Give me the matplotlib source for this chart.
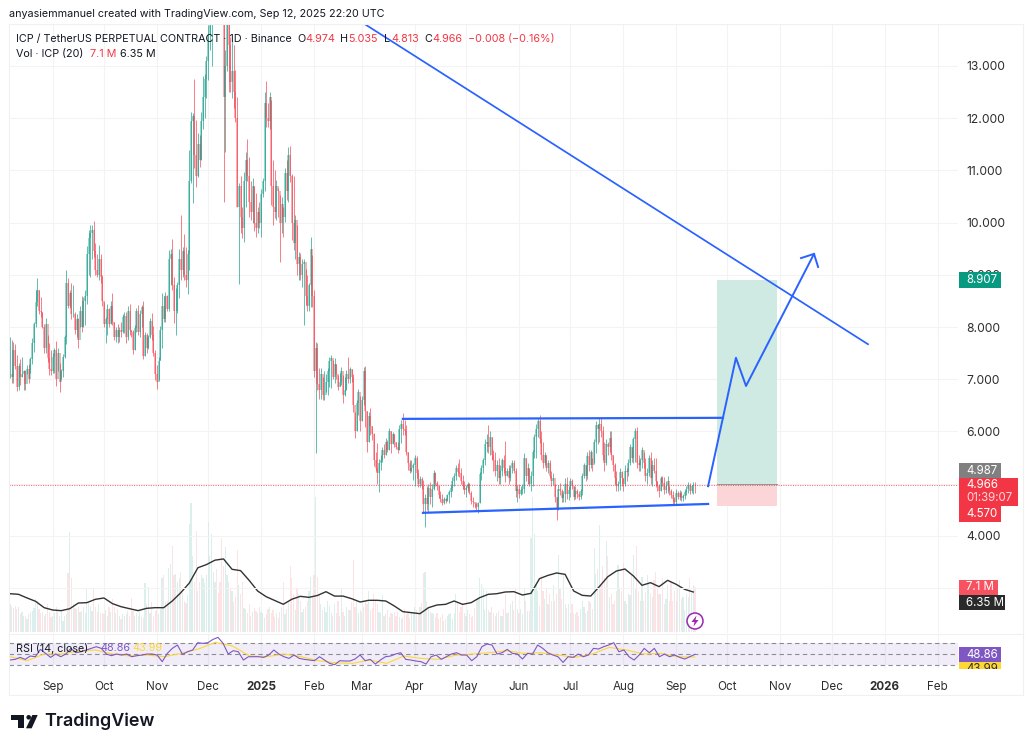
"""ICP / USDT daily candles with volume, RSI and hand drawn trade idea."""

import matplotlib
matplotlib.use("Agg")
import matplotlib.pyplot as plt
from matplotlib.patches import Circle, Polygon, Rectangle
import numpy as np
import pandas as pd

plt.rcParams["font.family"] = ["Inter", "DejaVu Sans"]

WIDTH, HEIGHT = 1032, 749
DPI = 100

# one row per month, Aug 7 2024 to Sep 12 2025
highs = [
    7.81, 7.75, 7.71, 7.67, 7.46, 7.31, 7.39, 7.43, 7.18, 7.18, 7.27, 7.30, 7.43, 7.79, 8.10, 8.70, 8.93, 8.70, 8.58, 8.29, 8.05, 8.17, 7.85, 7.70, 7.55,
    7.50, 7.60, 7.73, 7.60, 7.31, 7.20, 7.48, 7.85, 9.10, 8.93, 8.70, 8.85, 8.80, 8.29, 8.25, 8.17, 8.40, 8.60, 8.58, 8.70, 9.55, 9.85, 9.95, 9.95, 10.03, 9.60, 9.40, 9.57, 9.40, 9.00,
    8.48, 8.20, 8.44, 8.36, 8.50, 8.65, 8.10, 8.00, 8.05, 8.00, 8.10, 8.25, 8.29, 8.29, 8.40, 8.45, 7.95, 7.95, 8.04, 8.36, 8.42, 8.32, 8.42, 8.50, 7.90, 7.88, 7.85, 8.17, 8.26, 8.02, 7.56,
    7.27, 7.43, 8.02, 8.65, 8.60, 8.68, 8.62, 9.47, 9.50, 9.68, 8.96, 8.74, 8.87, 9.50, 10.14, 9.54, 9.79, 9.54, 9.47, 11.39, 12.12, 12.10, 12.76, 11.96, 11.71, 11.68, 12.12, 12.80, 12.85, 13.20,
    13.78, 14.10, 14.30, 15.00, 15.80, 15.50, 15.00, 14.80, 14.60, 14.30, 13.30, 14.00, 13.85, 13.55, 13.50, 13.40, 12.92, 12.40, 10.75, 10.90, 10.30, 10.97, 11.36, 11.60, 11.26, 10.80, 10.85, 10.70, 10.56, 10.30, 10.40,
    10.65, 10.85, 12.50, 12.71, 12.30, 12.50, 12.35, 11.20, 11.00, 10.82, 10.66, 10.53, 10.50, 10.30, 11.04, 11.20, 11.45, 11.46, 10.94, 10.90, 10.14, 9.95, 9.44, 9.41, 9.30, 9.30, 9.12, 9.00, 8.84, 9.73, 9.38,
    8.70, 7.72, 7.69, 7.21, 7.21, 7.05, 7.15, 7.10, 7.21, 7.43, 7.47, 7.37, 7.40, 7.30, 7.08, 7.11, 7.24, 7.08, 7.05, 7.18, 7.43, 7.24, 7.20, 7.10, 6.38, 6.60, 6.81, 6.67,
    6.67, 7.24, 7.25, 6.40, 6.38, 6.44, 6.10, 5.96, 5.60, 5.77, 5.48, 5.55, 5.71, 5.75, 5.87, 5.84, 6.07, 6.00, 5.98, 5.95, 5.80, 5.80, 6.12, 6.22, 6.35, 6.22, 6.12, 5.61, 5.45, 5.45, 5.39,
    5.55, 5.52, 5.28, 5.15, 5.13, 5.07, 4.81, 4.95, 5.00, 5.04, 5.00, 5.26, 5.23, 5.05, 4.97, 4.85, 4.81, 4.75, 4.72, 4.81, 4.88, 4.97, 5.13, 5.20, 5.36, 5.40, 5.47, 5.29, 5.17, 5.05,
    4.97, 5.04, 5.02, 4.85, 4.75, 4.62, 4.65, 4.65, 5.23, 5.35, 5.50, 5.85, 5.95, 6.12, 6.00, 5.90, 5.65, 5.60, 5.45, 5.50, 5.35, 5.50, 5.55, 5.82, 5.30, 5.35, 5.35, 5.45, 5.45, 5.30, 4.98,
    5.00, 4.95, 5.00, 5.58, 5.50, 5.40, 5.30, 5.25, 5.65, 5.95, 6.15, 6.25, 6.31, 6.00, 5.80, 5.60, 5.55, 5.45, 5.45, 5.25, 5.20, 5.00, 4.75, 4.97, 5.02, 4.90, 4.85, 5.10, 5.12, 4.95,
    5.10, 5.08, 4.95, 4.95, 4.90, 4.85, 4.90, 5.20, 5.40, 5.35, 5.60, 5.65, 5.65, 5.50, 5.85, 6.20, 6.15, 6.25, 6.25, 6.10, 5.80, 5.85, 5.80, 6.00, 6.00, 5.55, 5.40, 5.25, 5.05, 5.30, 5.25,
    5.10, 5.35, 5.30, 5.48, 5.75, 5.70, 5.90, 6.06, 6.08, 5.55, 5.50, 5.70, 5.60, 5.50, 5.30, 5.55, 5.60, 5.45, 5.50, 5.50, 5.05, 5.00, 5.15, 5.15, 5.12, 5.05, 5.15, 4.95, 4.90, 4.85, 4.75,
    4.90, 4.85, 4.88, 4.86, 4.80, 4.88, 4.95, 5.03, 5.02, 4.98, 5.04, 5.035,
]
lows = [
    7.03, 6.93, 6.93, 7.20, 6.77, 6.80, 6.89, 7.04, 6.80, 6.80, 7.10, 6.93, 7.12, 7.30, 7.52, 8.00, 8.40, 8.25, 8.20, 7.98, 7.50, 7.50, 7.33, 7.08, 7.08,
    7.12, 7.12, 6.87, 7.15, 6.76, 7.00, 7.05, 7.40, 7.67, 8.36, 8.36, 8.15, 8.19, 7.87, 7.80, 7.60, 8.00, 7.90, 8.00, 8.04, 8.45, 9.00, 8.96, 9.30, 9.35, 9.00, 8.95, 8.90, 8.85, 8.40,
    8.00, 7.70, 7.85, 8.00, 8.05, 8.04, 7.75, 7.72, 7.70, 7.72, 7.80, 7.88, 7.88, 7.70, 7.75, 7.85, 7.80, 7.48, 7.55, 7.91, 7.85, 7.81, 8.00, 7.39, 7.45, 7.50, 7.57, 7.78, 7.75, 7.45, 6.98,
    6.82, 6.98, 7.37, 7.60, 8.10, 8.10, 8.30, 8.30, 8.80, 8.71, 8.07, 7.84, 8.26, 8.55, 8.90, 8.96, 8.90, 8.77, 8.64, 9.09, 10.75, 10.38, 11.04, 10.69, 10.88, 11.07, 11.20, 11.80, 12.00, 12.38,
    12.73, 13.30, 13.00, 14.00, 14.60, 14.50, 14.20, 14.10, 14.00, 10.40, 11.35, 12.90, 12.50, 12.50, 12.38, 12.20, 11.93, 10.30, 8.83, 9.80, 9.70, 9.63, 10.30, 10.80, 10.10, 10.05, 10.00, 9.83, 9.73, 9.80, 9.90,
    9.73, 10.50, 10.60, 11.84, 11.84, 11.80, 10.34, 9.95, 10.08, 10.05, 10.10, 9.25, 9.80, 9.73, 10.02, 10.43, 10.40, 10.78, 9.67, 9.47, 9.30, 8.99, 8.90, 8.90, 8.77, 8.04, 8.42, 8.30, 8.30, 8.39, 8.39,
    7.05, 5.58, 6.79, 6.63, 6.62, 6.60, 6.60, 6.75, 6.70, 6.86, 6.83, 7.00, 6.92, 7.00, 6.80, 6.87, 6.89, 6.54, 6.67, 6.80, 6.92, 6.92, 6.95, 6.38, 5.87, 6.00, 6.32, 6.00,
    6.20, 6.50, 6.09, 5.60, 5.80, 5.93, 5.84, 5.33, 5.25, 5.00, 4.83, 5.26, 5.42, 5.50, 5.55, 5.60, 5.65, 5.58, 5.75, 5.70, 5.67, 5.58, 5.65, 5.77, 5.93, 5.93, 5.55, 5.26, 5.20, 5.23, 5.07,
    4.95, 5.10, 4.94, 4.94, 4.90, 4.46, 4.17, 4.50, 4.46, 4.60, 4.56, 4.88, 4.95, 4.88, 4.72, 4.65, 4.59, 4.60, 4.62, 4.66, 4.62, 4.75, 4.85, 4.95, 5.07, 5.15, 5.13, 5.00, 4.90, 4.81,
    4.75, 4.85, 4.80, 4.60, 4.56, 4.53, 4.50, 4.43, 4.62, 5.07, 5.20, 5.35, 5.60, 5.58, 5.55, 5.45, 5.25, 5.15, 5.05, 5.00, 5.00, 5.15, 5.20, 5.04, 5.15, 5.00, 5.05, 5.20, 5.20, 4.75, 4.65,
    4.72, 4.78, 4.80, 4.82, 5.05, 5.00, 4.95, 4.85, 4.95, 5.50, 5.50, 5.90, 5.77, 5.45, 5.30, 5.35, 5.25, 5.20, 5.10, 4.95, 4.97, 4.65, 4.30, 4.50, 4.78, 4.65, 4.65, 4.65, 4.70, 4.68,
    4.75, 4.90, 4.68, 4.70, 4.72, 4.68, 4.70, 4.78, 5.10, 5.05, 5.08, 5.25, 5.30, 5.25, 5.40, 5.58, 5.75, 5.80, 5.90, 5.45, 5.25, 5.35, 5.55, 5.60, 5.45, 5.25, 5.00, 4.85, 4.85, 4.88, 4.95,
    4.85, 4.95, 5.05, 5.15, 5.35, 5.42, 5.40, 5.42, 5.30, 5.25, 5.25, 5.30, 5.30, 5.05, 5.00, 5.15, 5.00, 4.95, 5.20, 4.94, 4.85, 4.75, 4.85, 4.95, 4.80, 4.82, 4.82, 4.78, 4.72, 4.60, 4.60,
    4.60, 4.70, 4.68, 4.66, 4.67, 4.70, 4.78, 4.82, 4.80, 4.82, 4.80, 4.813,
]
closes = [
    7.10, 7.05, 7.55, 7.25, 6.85, 7.25, 7.05, 7.10, 7.15, 6.90, 7.20, 7.00, 7.38, 7.70, 8.05, 8.47, 8.70, 8.30, 8.28, 8.00, 7.60, 8.05, 7.40, 7.20, 7.15,
    7.42, 7.55, 7.00, 7.50, 6.95, 7.15, 7.42, 7.80, 8.85, 8.40, 8.65, 8.25, 8.25, 7.95, 8.15, 7.75, 8.30, 8.00, 8.50, 8.60, 9.40, 9.70, 9.80, 9.85, 9.45, 9.10, 9.00, 9.30, 8.95, 8.50,
    8.05, 8.15, 8.35, 8.05, 8.40, 8.10, 7.80, 7.95, 7.80, 7.95, 7.90, 8.20, 8.22, 7.80, 8.30, 7.95, 7.90, 7.55, 7.98, 8.30, 7.90, 8.25, 8.38, 7.45, 7.85, 7.60, 7.80, 8.12, 7.85, 7.50, 7.10,
    6.95, 7.35, 7.95, 8.40, 8.15, 8.60, 8.35, 9.30, 9.40, 8.80, 8.30, 8.30, 8.80, 9.30, 9.10, 9.45, 9.00, 8.90, 9.40, 10.80, 11.95, 12.05, 11.30, 10.90, 11.50, 11.20, 11.95, 12.40, 12.75, 13.10,
    13.60, 14.00, 14.20, 14.80, 15.20, 14.80, 14.40, 14.30, 14.20, 12.40, 13.00, 13.80, 13.40, 12.70, 12.90, 12.50, 12.00, 10.30, 10.70, 10.10, 9.90, 10.80, 11.20, 10.90, 10.40, 10.20, 10.70, 10.00, 9.90, 10.20, 10.00,
    10.55, 10.80, 12.30, 12.00, 11.95, 12.40, 10.70, 10.30, 10.20, 10.70, 10.60, 10.00, 10.35, 10.10, 10.95, 10.60, 11.30, 10.90, 10.00, 9.60, 10.05, 9.20, 9.35, 9.00, 9.20, 9.25, 8.60, 8.40, 8.80, 9.50, 8.60,
    7.15, 7.60, 6.90, 6.80, 7.10, 6.70, 6.70, 6.95, 7.15, 7.35, 7.40, 7.05, 7.30, 7.10, 6.85, 6.95, 7.15, 6.70, 6.80, 7.10, 7.00, 7.20, 7.05, 6.50, 6.00, 6.55, 6.75, 6.20,
    6.60, 7.15, 6.40, 5.80, 6.30, 6.10, 5.95, 5.45, 5.30, 5.20, 5.40, 5.45, 5.65, 5.55, 5.80, 5.65, 6.00, 5.75, 5.95, 5.80, 5.70, 5.65, 6.05, 6.15, 6.05, 6.00, 5.60, 5.40, 5.25, 5.30, 5.35,
    5.50, 5.20, 5.00, 5.08, 4.95, 4.60, 4.72, 4.60, 4.92, 4.75, 4.90, 5.20, 5.02, 4.95, 4.78, 4.70, 4.62, 4.70, 4.66, 4.78, 4.84, 4.92, 5.05, 5.15, 5.30, 5.22, 5.20, 5.05, 4.95, 4.88,
    4.92, 5.00, 4.82, 4.66, 4.65, 4.60, 4.55, 4.62, 5.18, 5.30, 5.45, 5.75, 5.80, 5.70, 5.90, 5.55, 5.45, 5.25, 5.35, 5.10, 5.25, 5.45, 5.30, 5.15, 5.25, 5.10, 5.30, 5.40, 5.25, 4.85, 4.90,
    4.80, 4.88, 4.90, 5.50, 5.15, 5.30, 5.00, 5.15, 5.60, 5.90, 6.05, 6.20, 5.85, 5.55, 5.40, 5.55, 5.30, 5.40, 5.15, 5.05, 5.10, 4.75, 4.50, 4.90, 4.85, 4.72, 4.80, 5.00, 4.80, 4.88,
    5.05, 4.95, 4.75, 4.85, 4.80, 4.74, 4.85, 5.15, 5.35, 5.15, 5.52, 5.35, 5.60, 5.35, 5.80, 6.12, 6.05, 6.15, 6.00, 5.55, 5.40, 5.75, 5.70, 5.88, 5.55, 5.35, 5.10, 4.95, 5.00, 5.22, 5.10,
    5.00, 5.25, 5.22, 5.40, 5.70, 5.50, 5.85, 6.00, 5.40, 5.35, 5.45, 5.65, 5.40, 5.15, 5.20, 5.50, 5.10, 5.35, 5.25, 5.05, 4.95, 4.85, 5.10, 5.02, 4.88, 4.95, 5.05, 4.85, 4.78, 4.70, 4.65,
    4.82, 4.75, 4.82, 4.72, 4.76, 4.84, 4.90, 4.98, 4.85, 4.95, 4.974, 4.966,
]
volumes = [
    4.4, 4.2, 3.8, 4.1, 3.6, 4.0, 2.8, 3.2, 2.5, 2.6, 2.0, 2.8, 3.2, 3.4, 3.8, 5.2, 5.0, 3.6, 3.0, 3.2, 2.6, 2.8, 4.5, 3.2, 2.4,
    2.6, 3.0, 4.0, 3.5, 2.6, 3.3, 1.8, 2.6, 2.8, 9.4, 15.8, 8.5, 4.5, 3.8, 3.6, 4.0, 3.2, 3.4, 4.0, 3.0, 7.0, 5.0, 4.2, 3.4, 6.8, 4.0, 3.2, 4.5, 3.0, 3.0,
    2.8, 3.5, 2.6, 4.0, 3.2, 5.2, 4.0, 3.0, 3.6, 2.5, 2.0, 2.8, 2.5, 2.8, 3.4, 2.6, 5.4, 3.4, 2.5, 3.0, 2.6, 3.2, 2.4, 2.2, 7.8, 4.5, 7.2, 3.0, 4.8, 2.6, 3.4,
    3.5, 2.8, 3.6, 8.5, 9.0, 4.8, 5.0, 10.2, 10.8, 13.6, 9.0, 9.2, 8.0, 8.6, 9.5, 6.2, 5.0, 4.6, 5.8, 17.2, 20.4, 12.0, 8.0, 16.0, 6.5, 8.0, 9.0, 8.5, 7.8, 9.0,
    17.4, 12.0, 15.5, 9.5, 8.0, 10.0, 6.2, 8.0, 15.0, 10.5, 13.5, 9.0, 8.0, 7.0, 6.5, 4.8, 5.5, 13.0, 7.5, 6.0, 8.0, 3.8, 3.6, 3.0, 4.5, 2.6, 3.2, 3.8, 3.4, 3.0, 4.0,
    3.2, 3.0, 2.2, 2.8, 3.6, 4.0, 3.0, 3.5, 2.4, 3.0, 2.2, 3.2, 4.0, 8.0, 2.8, 3.6, 5.0, 10.5, 8.5, 6.0, 3.5, 7.0, 6.0, 5.0, 3.2, 3.6, 4.0, 5.0, 6.5, 8.8, 5.5,
    9.0, 21.5, 8.8, 6.0, 4.5, 3.5, 4.0, 3.2, 5.0, 4.2, 3.0, 2.5, 4.5, 3.0, 5.0, 2.5, 6.8, 3.2, 2.6, 4.0, 3.5, 3.5, 4.8, 11.5, 4.0, 5.0, 3.0, 3.5,
    3.2, 4.0, 5.0, 4.5, 6.5, 3.5, 3.8, 6.0, 5.0, 4.5, 3.2, 3.0, 5.8, 2.6, 2.8, 3.5, 2.4, 3.0, 2.8, 3.2, 2.5, 3.4, 2.4, 2.0, 2.4, 3.6, 2.8, 3.0, 2.2, 3.0, 3.2,
    4.0, 3.5, 2.8, 4.0, 4.6, 9.4, 9.6, 5.0, 4.0, 3.2, 3.0, 2.8, 2.4, 3.0, 2.0, 2.4, 2.8, 1.8, 2.0, 2.6, 2.8, 3.0, 2.0, 3.0, 6.0, 4.8, 3.2, 4.0, 4.6, 3.0,
    2.6, 3.5, 2.8, 2.4, 2.6, 3.8, 5.0, 5.4, 8.5, 7.6, 6.8, 3.5, 6.5, 3.5, 3.2, 4.0, 3.0, 2.6, 3.0, 3.4, 2.5, 2.5, 3.6, 6.0, 3.0, 3.2, 4.5, 5.0, 3.5, 7.0, 3.6,
    3.0, 3.6, 2.8, 7.0, 5.0, 3.4, 3.4, 15.0, 21.5, 15.5, 7.6, 6.5, 4.2, 9.0, 6.5, 5.2, 7.0, 4.5, 6.0, 5.0, 7.5, 5.0, 6.0, 12.3, 7.0, 5.2, 9.0, 4.5, 3.8, 4.5,
    3.0, 4.5, 3.0, 2.8, 3.2, 2.6, 3.6, 5.0, 4.0, 3.0, 3.4, 5.0, 4.6, 3.6, 13.4, 9.2, 10.0, 17.0, 7.4, 10.5, 8.6, 14.4, 12.0, 5.5, 6.0, 4.5, 5.0, 6.5, 10.6, 7.0, 6.5,
    11.0, 5.0, 4.5, 6.0, 5.8, 9.0, 12.3, 7.0, 13.6, 6.5, 5.0, 8.8, 5.0, 6.4, 9.0, 8.0, 6.0, 5.5, 8.2, 9.5, 7.0, 6.0, 6.0, 8.5, 4.5, 5.2, 7.5, 5.0, 8.0, 5.0, 6.5,
    5.0, 7.0, 8.2, 5.2, 5.6, 3.5, 6.0, 5.5, 8.5, 6.2, 7.5, 7.1,
]
# volume average, read every 5th day
vol_ma = [
    6.08, 5.98, 5.40, 4.87, 3.86, 3.49, 3.39, 3.70, 4.60, 4.66, 5.19, 5.40, 4.50, 4.02, 3.70, 3.39, 3.76, 3.86, 3.86, 4.92,
    6.24, 7.78, 10.2, 10.7, 11.4, 11.6, 9.95, 9.74, 8.2, 6.5, 5.6, 5.0, 4.4, 5.2, 5.66, 5.5, 5.8, 6.4, 5.7, 5.7,
    5.29, 4.76, 5.03, 5.03, 4.92, 4.13, 3.23, 3.07, 2.91, 3.86, 4.29, 4.39, 4.92, 4.39, 4.66, 5.45, 5.98, 6.08, 6.35, 6.4,
    5.87, 6.14, 8.47, 8.99, 9.37, 9.15, 6.51, 5.82, 5.71, 7.2, 8.78, 9.68, 10.0, 8.89, 7.41, 7.83, 7.2, 8.2, 7.57, 6.77, 6.35,
]
# RSI, read about every 3rd day
rsi = [
    38.5, 39.7, 43.3, 39.7, 45.8, 44.5, 57.9, 50.6, 43.3, 49.4, 44.5, 49.4, 59.7, 51.8, 53.6, 56.7, 59.7, 62.7, 59.7, 49.4,
    46.4, 49.4, 47.6, 49.4, 44.5, 46.4, 47.6, 49.4, 49.4, 47.6, 35.5, 50.6, 59.7, 65.8, 48.8, 53.6, 56.7, 70.0, 68.8, 70.0,
    76.0, 79.7, 68.8, 49.4, 55.5, 53.6, 38.5, 44.5, 44.5, 44.5, 43.3, 47.6, 56.7, 49.4, 44.5, 41.5, 47.6, 41.5, 39.7, 38.5,
    37.3, 44.5, 38.5, 32.4, 30.0, 37.3, 36.7, 36.7, 40.3, 47.6, 37.3, 39.7, 31.2, 38.5, 44.5, 45.8, 49.4, 51.8, 39.7, 38.5,
    36.7, 35.5, 31.2, 44.5, 47.6, 39.7, 44.5, 49.4, 51.8, 47.6, 47.6, 37.3, 44.5, 62.7, 67.6, 65.8, 49.4, 51.8, 57.9, 50.6,
    49.4, 40.3, 50.6, 49.4, 65.8, 59.7, 51.8, 47.6, 44.5, 34.2, 44.5, 43.3, 49.4, 44.5, 47.6, 59.7, 58.5, 62.7, 65.8, 70.0,
    53.6, 56.7, 44.5, 38.5, 47.6, 59.7, 51.8, 59.7, 44.5, 49.4, 44.5, 47.6, 43.3, 40.3, 44.5, 48.86,
]
# RSI average, read every 10th day
rsi_ma = [
    44.5, 37.3, 49.4, 49.4, 54.8, 56.7, 49.4, 45.8, 47.6, 44.5, 50.6, 58.5, 70.6, 63.9, 45.8, 44.5, 49.4, 44.5, 37.3, 33.6,
    32.4, 38.5, 32.4, 45.8, 41.5, 39.7, 47.0, 49.4, 51.8, 55.5, 50.6, 51.8, 47.6, 43.3, 49.4, 61.5, 56.7, 49.4, 50.6, 44.5, 43.99,
]

price_ticks = [4, 5, 6, 7, 8, 9, 10, 11, 12, 13]
time_ticks = ["2024-09-01", "2024-10-01", "2024-11-01", "2024-12-01", "2025-01-01", "2025-02-01", "2025-03-01",
              "2025-04-01", "2025-05-01", "2025-06-01", "2025-07-01", "2025-08-01", "2025-09-01", "2025-10-01",
              "2025-11-01", "2025-12-01", "2026-01-01", "2026-02-01"]
time_labels = ["Sep", "Oct", "Nov", "Dec", "2025", "Feb", "Mar", "Apr", "May", "Jun", "Jul", "Aug", "Sep", "Oct",
               "Nov", "Dec", "2026", "Feb"]

last_price = 4.966
entry_price = 4.987
target_price = 8.907
stop_price = 4.570

# drawings, in day number and price
trend_days = [207.8, 502.3]
trend_prices = [13.8, 7.67]
range_top_days = [230, 417.4]
range_top_prices = [6.24, 6.26]
range_low_days = [241.8, 408.7]
range_low_prices = [4.44, 4.61]
path_days = [408.7, 425, 430.9, 470.7]
path_prices = [4.95, 7.41, 6.87, 9.40]
head_days = [463.1, 470.7, 473.1]
head_prices = [9.32, 9.40, 9.15]
box_days = [413.9, 449]

UP = "#089981"
DOWN = "#f23645"
BLUE = "#2962ff"
GRID = "#f3f3f3"
TEXT = "#131722"
PURPLE = "#7e57c2"
YELLOW = "#fdd835"
AXIS_TEXT = "#2e2e2e"
LEGEND_SIZE = 7.75
BOX_SIZE = 8.3


def pane(fig, left, top, right, bottom):
    """Add an axes placed by picture pixels."""
    return fig.add_axes([left / WIDTH, 1 - bottom / HEIGHT, (right - left) / WIDTH, (bottom - top) / HEIGHT])


fig = plt.figure(figsize=(WIDTH / DPI, HEIGHT / DPI), dpi=DPI, facecolor="white")

start = pd.Timestamp("2024-08-07")
days = np.arange(len(closes))
high = np.array(highs)
low = np.array(lows)
close = np.array(closes)
open_ = np.r_[closes[0], close[:-1]]
up = close >= open_
colors = np.where(up, UP, DOWN)
tick_days = [(pd.Timestamp(t) - start).days for t in time_ticks]
day_span = (-0.585, 555.0)

# volume sits under the candles
ax_vol = pane(fig, 9, 24, 958, 633)
ax_vol.set_xlim(*day_span)
ax_vol.set_ylim(-1 / 6.3, 608 / 6.3)
ax_vol.set_xticks(tick_days)
ax_vol.set_yticks([])
ax_vol.tick_params(length=0, labelbottom=False)
ax_vol.grid(axis="x", color=GRID, lw=0.75)
ax_vol.set_axisbelow(True)
for spine in ax_vol.spines.values():
    spine.set_visible(False)
ax_vol.bar(days, volumes, width=0.7, color=np.where(up, "#cdebe6", "#fcd9dc"), alpha=0.7)
ax_vol.plot(np.linspace(0, 400, len(vol_ma)), vol_ma, color="#333333", lw=1.0)

ax = pane(fig, 9, 24, 958, 633)
ax.patch.set_alpha(0)
ax.set_xlim(*day_span)
ax.set_ylim(13 - (633 - 66) / 52.2, 13 - (24 - 66) / 52.2)
ax.set_xticks([])
ax.set_yticks(price_ticks)
ax.set_yticklabels([f"{p:.3f}" for p in price_ticks], fontsize=8.7, color=AXIS_TEXT)
ax.yaxis.tick_right()
ax.tick_params(axis="y", length=0, pad=5.7)
ax.grid(axis="y", color=GRID, lw=0.75)
ax.axhline(3, color=GRID, lw=0.75, zorder=0.5)
ax.set_axisbelow(True)
for spine in ax.spines.values():
    spine.set_visible(False)

# target and stop boxes
ax.fill_between(box_days, entry_price, target_price, color="#cfe9e3", lw=0, zorder=1)
ax.fill_between(box_days, stop_price, entry_price, color="#fcd5d8", lw=0, zorder=1)
ax.plot(box_days, [entry_price, entry_price], color="#8a9a96", lw=0.7, zorder=1.1)

ax.axhline(last_price, color=DOWN, lw=0.75, ls=(0, (1, 1.3)), alpha=0.75, zorder=1.2)

ax.vlines(days, low, high, colors=colors, lw=0.6, alpha=0.75, zorder=2)
ax.vlines(days, np.minimum(open_, close), np.maximum(open_, close), colors=colors, lw=1.15, alpha=0.5, zorder=2.1)

ax.plot(trend_days, trend_prices, color=BLUE, lw=1.25, zorder=3)
ax.plot(range_top_days, range_top_prices, color=BLUE, lw=1.6, zorder=3)
ax.plot(range_low_days, range_low_prices, color=BLUE, lw=1.6, zorder=3)
ax.plot(path_days, path_prices, color=BLUE, lw=1.4, zorder=3)
ax.plot(head_days, head_prices, color=BLUE, lw=1.4, zorder=3)

# RSI pane
ax_rsi = pane(fig, 9, 634, 958, 669)
ax_rsi.set_xlim(*day_span)
ax_rsi.set_ylim(30 - (669 - 664.7) / 0.55, 70 + (642.7 - 634) / 0.55)
ax_rsi.set_yticks([])
ax_rsi.set_xticks(tick_days)
ax_rsi.set_xticklabels(time_labels, fontsize=8.4, color=AXIS_TEXT)
for label in ax_rsi.get_xticklabels():
    if label.get_text().isdigit():
        label.set_fontweight("bold")
ax_rsi.tick_params(axis="x", length=0, pad=8.5)
ax_rsi.grid(axis="x", color=GRID, lw=0.75)
ax_rsi.set_axisbelow(True)
for spine in ax_rsi.spines.values():
    spine.set_visible(False)
ax_rsi.axhspan(30, 70, color=PURPLE, alpha=0.1, lw=0)
for level in (30, 50, 70):
    ax_rsi.axhline(level, color="#787b86", lw=0.8, ls=(0, (4, 3)), alpha=0.85)
ax_rsi.plot(np.linspace(0, 401, len(rsi_ma)), rsi_ma, color=YELLOW, lw=0.8)
ax_rsi.plot(np.linspace(0, 401, len(rsi)), rsi, color=PURPLE, lw=0.8)

# frame, legend texts and scale labels in picture pixels
over = fig.add_axes([0, 0, 1, 1], zorder=10)
over.set_xlim(0, WIDTH)
over.set_ylim(HEIGHT, 0)
over.axis("off")

frame = "#f0f0f0"
over.plot([9, 1023, 1023, 9, 9], [23.5, 23.5, 694.5, 694.5, 23.5], color=frame, lw=0.75)
over.plot([9, 1023], [633.5, 633.5], color=frame, lw=0.75)


def put(x, y, text, color=TEXT, size=BOX_SIZE, **kw):
    return over.text(x, y, text, color=color, fontsize=size, va="center", ha="left", **kw)


put(9, 14, "anyasiemmanuel created with TradingView.com, Sep 12, 2025 22:20 UTC", size=LEGEND_SIZE)
put(16, 39, "ICP / TetherUS PERPETUAL CONTRACT · 1D · Binance", size=LEGEND_SIZE)
for x, text, color in [(297, "O", TEXT), (305, "4.974", DOWN), (340, "H", TEXT), (348, "5.035", DOWN),
                       (384, "L", TEXT), (391, "4.813", DOWN), (424, "C", TEXT), (432, "4.966", DOWN),
                       (468, "−0.008 (−0.16%)", DOWN)]:
    put(x, 39, text, color=color, size=LEGEND_SIZE)
put(16, 54, "Vol · ICP (20)", size=LEGEND_SIZE)
put(90, 54, "7.1 M", color=DOWN, size=LEGEND_SIZE)
put(120, 54, "6.35 M", size=LEGEND_SIZE)
put(16, 648, "RSI (14, close)", size=LEGEND_SIZE)
put(100, 648, "48.86", color=PURPLE, size=LEGEND_SIZE)
put(132.5, 648, "43.99", color=YELLOW, size=LEGEND_SIZE)

for x0, y0, x1, y1, color, lines in [
    (959, 272, 1001, 288, UP, [(280, "8.907", "white")]),
    (959, 463, 1001, 478, "#808080", [(470.5, "4.987", "white")]),
    (959, 506, 1001, 522, DOWN, [(514, "4.570", "white")]),
    (959, 478, 1018, 506, DOWN, [(485.5, "4.966", "white"), (498, "01:39:07", "#ffd5d8")]),
    (959, 580, 998, 595, "#f7525f", [(587.5, "7.1 M", "white")]),
    (959, 595, 1005, 610, "#2a2a2a", [(602.5, "6.35 M", "white")]),
]:
    over.add_patch(Rectangle((x0, y0), x1 - x0, y1 - y0, facecolor=color, edgecolor="none"))
    for y, text, text_color in lines:
        put(966, y, text, color=text_color)

# the two RSI labels, the lower one is cut by the pane end
yellow_box = Rectangle((959, 662), 42, 7, facecolor=YELLOW, edgecolor="none")
over.add_patch(yellow_box)
yellow_text = put(966, 669, "43.99", color="#2e2e2e")
yellow_text.set_clip_on(True)
yellow_text.set_clip_path(yellow_box)
over.add_patch(Rectangle((959, 647), 42, 15, facecolor=PURPLE, edgecolor="none"))
put(966, 654.5, "48.86", color="white")

# power hour badge
over.add_patch(Circle((695, 621), 8, facecolor="white", edgecolor="#9c27b0", lw=1.1))
over.add_patch(Polygon([(696.5, 615.5), (691.5, 622), (694.5, 622), (693.5, 626.5), (698.5, 620), (695.5, 620)],
                       closed=True, facecolor="#9c27b0", edgecolor="none"))

# TradingView mark
over.add_patch(Polygon([(11, 715), (24.3, 715), (24.3, 728.3), (17.7, 728.3), (17.7, 719.5), (11, 719.5)],
                       closed=True, facecolor="#131722", edgecolor="none"))
over.add_patch(Circle((28.7, 717.3), 2.3, facecolor="#131722", edgecolor="none"))
over.add_patch(Polygon([(32.3, 715), (37.7, 715), (31.7, 728.3), (26, 728.3)],
                       closed=True, facecolor="#131722", edgecolor="none"))
put(44, 721.5, "TradingView", size=12.9, fontweight="semibold")

fig.savefig("out.png", dpi=DPI, facecolor="white")
